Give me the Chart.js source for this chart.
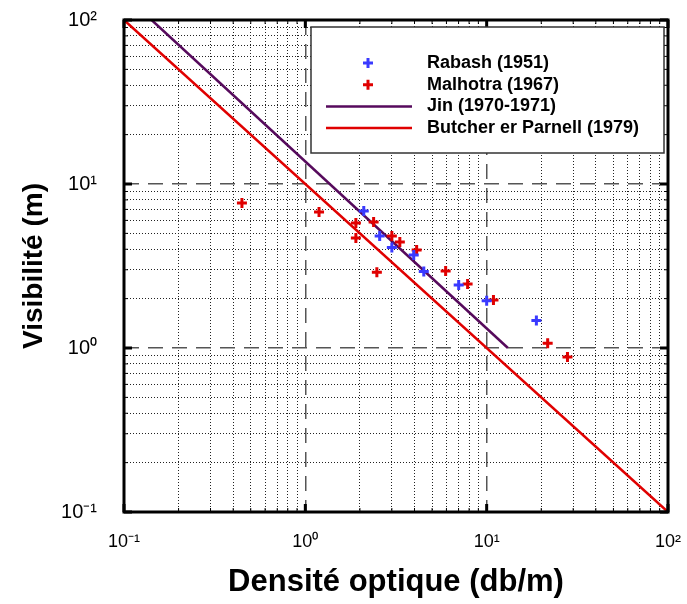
<!DOCTYPE html>
<html>
<head>
<meta charset="utf-8">
<script src="https://cdn.jsdelivr.net/npm/chart.js@4"></script>
<style>
  html, body { margin: 0; padding: 0; background: #fff; }
  #wrap { width: 687px; height: 604px; }
</style>
</head>
<body>
<div id="wrap"><canvas id="chart"></canvas></div>
<script>
"use strict";

// values
const rabashD = [2.10, 2.57, 3.00, 3.96, 4.50, 7.01, 10.0, 18.8];
const rabashV = [6.84, 4.82, 4.10, 3.69, 2.93, 2.42, 1.94, 1.47];
const malhotraD = [0.447, 1.19, 1.90, 1.90, 2.38, 3.00, 3.32, 2.48, 4.11, 5.94, 7.85, 10.9, 21.7, 27.9];
const malhotraV = [7.66, 6.75, 5.78, 4.69, 5.86, 4.82, 4.43, 2.90, 3.96, 2.95, 2.46, 1.96, 1.07, 0.88];
const jinD = [0.142, 13.1];
const jinV = [100, 1];
const butcherD = [0.1, 100];
const butcherV = [100, 0.1];

const decades = [0.1, 1, 10, 100];
const decadeLabels = ['10\u207B\u00B9', '10\u2070', '10\u00B9', '10\u00B2'];

const FONT = "'Liberation Sans', Arial, Helvetica, sans-serif";

function minorTicks() {
  const out = [];
  decades.forEach((d, i) => {
    out.push({ value: d, major: true });
    if (i < decades.length - 1) {
      for (let k = 2; k <= 9; k++) out.push({ value: +(d * k).toPrecision(6), major: false });
    }
  });
  return out;
}

function isDecade(v) {
  return decades.some(d => Math.abs(d - v) < d * 1e-6);
}

function tickLabel(v) {
  const i = decades.findIndex(d => Math.abs(d - v) < d * 1e-6);
  return i >= 0 ? decadeLabels[i] : '';
}

const pts = (xs, ys) => xs.map((x, i) => ({ x: x, y: ys[i] }));

const gridOpts = {
  drawTicks: false,
  color: ctx => isDecade(ctx.tick.value) ? '#555' : '#222',
  lineWidth: ctx => isDecade(ctx.tick.value) ? 1.5 : 1,
};
const borderOpts = {
  display: false,
  dash: ctx => isDecade(ctx.tick.value) ? [15, 9] : [1, 2],
};

// frame + inward tick marks
const framePlugin = {
  id: 'frame',
  afterDatasetsDraw(chart) {
    const { ctx, chartArea: a, scales } = chart;
    ctx.save();
    ctx.strokeStyle = '#000';
    scales.x.ticks.forEach(t => {
      const px = scales.x.getPixelForValue(t.value);
      const major = isDecade(t.value);
      const len = major ? 8 : 4;
      ctx.lineWidth = major ? 3 : 1;
      ctx.beginPath();
      ctx.moveTo(px, a.bottom); ctx.lineTo(px, a.bottom - len);
      ctx.moveTo(px, a.top); ctx.lineTo(px, a.top + len);
      ctx.stroke();
    });
    scales.y.ticks.forEach(t => {
      const py = scales.y.getPixelForValue(t.value);
      const major = isDecade(t.value);
      const len = major ? 8 : 4;
      ctx.lineWidth = major ? 3 : 1;
      ctx.beginPath();
      ctx.moveTo(a.left, py); ctx.lineTo(a.left + len, py);
      ctx.moveTo(a.right, py); ctx.lineTo(a.right - len, py);
      ctx.stroke();
    });
    ctx.lineWidth = 3;
    ctx.strokeRect(a.left, a.top, a.right - a.left, a.bottom - a.top);
    ctx.restore();
  }
};

// boxed legend in the upper right
const legendBox = {
  id: 'legendBox',
  afterDraw(chart) {
    const { ctx } = chart;
    const x0 = 311, y0 = 27, w = 353, h = 126;
    ctx.save();
    ctx.fillStyle = '#fff';
    ctx.fillRect(x0, y0, w, h);
    ctx.strokeStyle = '#333';
    ctx.lineWidth = 1.5;
    ctx.strokeRect(x0, y0, w, h);
    chart.data.datasets.forEach((ds, i) => {
      const y = 63 + i * 21.7;
      ctx.strokeStyle = ds.borderColor;
      ctx.lineWidth = ds.borderWidth;
      ctx.beginPath();
      if (ds.showLine) {
        ctx.moveTo(326, y); ctx.lineTo(412, y);
      } else {
        const r = ds.pointRadius;
        ctx.moveTo(368 - r, y); ctx.lineTo(368 + r, y);
        ctx.moveTo(368, y - r); ctx.lineTo(368, y + r);
      }
      ctx.stroke();
      ctx.fillStyle = '#000';
      ctx.font = 'bold 18px ' + FONT;
      ctx.textBaseline = 'middle';
      ctx.textAlign = 'left';
      ctx.fillText(ds.label, 427, y);
    });
    ctx.restore();
  }
};

new Chart(document.getElementById('chart'), {
  type: 'scatter',
  data: {
    datasets: [
      {
        label: 'Rabash (1951)',
        data: pts(rabashD, rabashV),
        pointStyle: 'cross', pointRadius: 5, borderWidth: 3,
        borderColor: '#3a3aff', backgroundColor: '#3a3aff',
      },
      {
        label: 'Malhotra (1967)',
        data: pts(malhotraD, malhotraV),
        pointStyle: 'cross', pointRadius: 5, borderWidth: 3,
        borderColor: '#e00000', backgroundColor: '#e00000',
      },
      {
        label: 'Jin (1970-1971)',
        data: pts(jinD, jinV),
        showLine: true, pointRadius: 0, borderWidth: 2.5,
        borderColor: '#560a5c', backgroundColor: '#560a5c',
      },
      {
        label: 'Butcher er Parnell (1979)',
        data: pts(butcherD, butcherV),
        showLine: true, pointRadius: 0, borderWidth: 2.5,
        borderColor: '#e00000', backgroundColor: '#e00000',
      },
    ]
  },
  options: {
    responsive: true,
    maintainAspectRatio: false,
    animation: false,
    layout: { padding: { top: 20, right: 19, left: 0, bottom: 0 } },
    plugins: {
      legend: { display: false },
      tooltip: { enabled: false },
    },
    scales: {
      x: {
        type: 'logarithmic',
        position: 'bottom',
        min: 0.1, max: 100,
        afterBuildTicks: s => { s.ticks = minorTicks(); },
        afterFit: s => { s.height = 92; s.paddingLeft = 0; s.paddingRight = 0; },
        ticks: {
          autoSkip: false, maxRotation: 0, padding: 19,
          color: '#000',
          font: { family: FONT, size: 18 },
          callback: v => tickLabel(v),
        },
        grid: gridOpts,
        border: borderOpts,
        title: {
          display: true,
          text: 'Densité optique (db/m)',
          color: '#000',
          font: { family: FONT, size: 31, weight: 'bold' },
          padding: { top: 0, bottom: 3 },
        },
      },
      y: {
        type: 'logarithmic',
        position: 'left',
        min: 0.1, max: 100,
        afterBuildTicks: s => { s.ticks = minorTicks(); },
        afterFit: s => { s.width = 124; s.paddingTop = 0; s.paddingBottom = 0; },
        ticks: {
          autoSkip: false, padding: 27,
          color: '#000',
          font: { family: FONT, size: 20 },
          callback: v => tickLabel(v),
        },
        grid: gridOpts,
        border: borderOpts,
        title: {
          display: true,
          text: 'Visibilité (m)',
          color: '#000',
          font: { family: FONT, size: 28, weight: 'bold' },
          padding: { top: 17, bottom: 0 },
        },
      },
    },
  },
  plugins: [framePlugin, legendBox],
});
</script>
</body>
</html>
